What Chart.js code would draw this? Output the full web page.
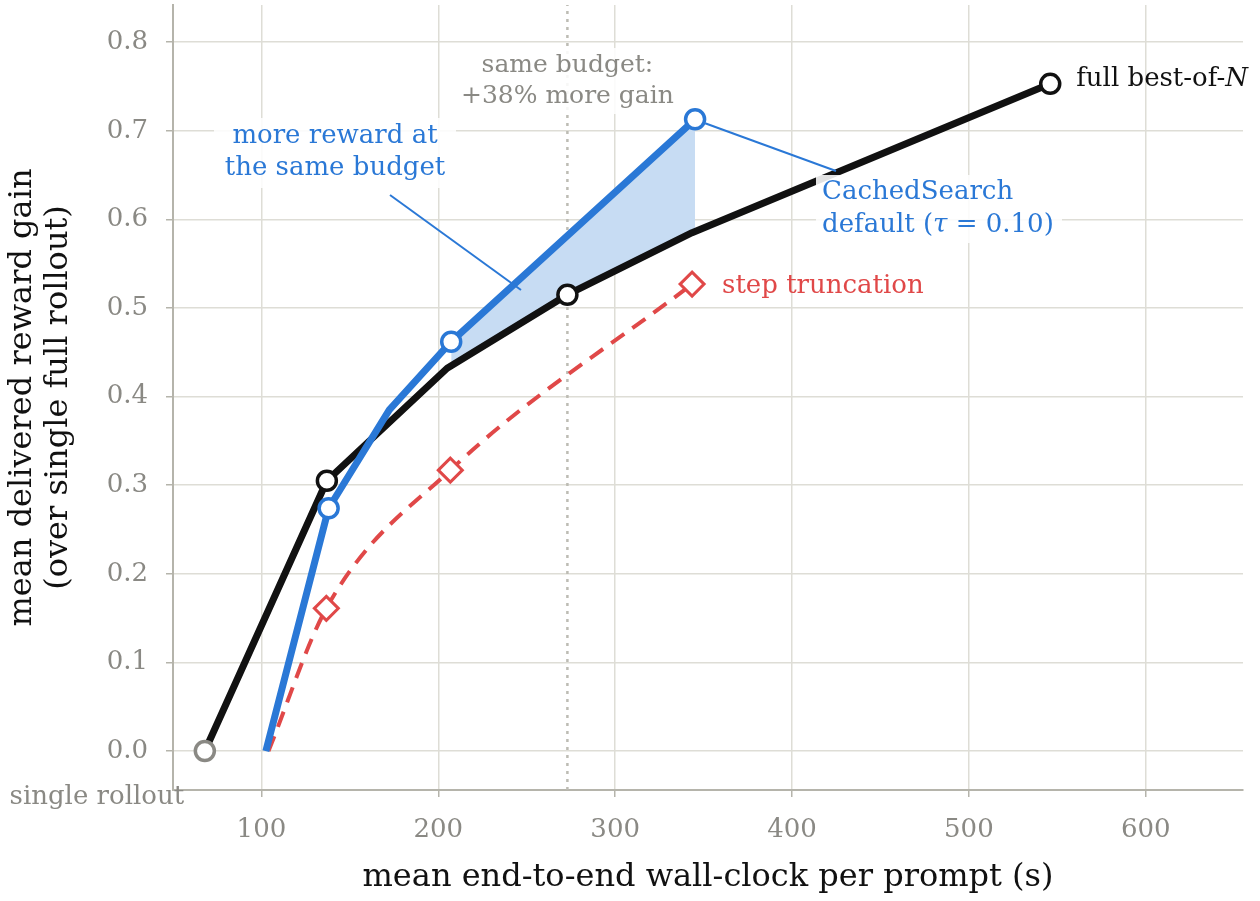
<!DOCTYPE html>
<html>
<head>
<meta charset="utf-8">
<script src="https://cdn.jsdelivr.net/npm/chart.js@4"></script>
<style>
  html, body { margin: 0; padding: 0; background: #fff; }
  #wrap { width: 1260px; height: 901px; position: relative; }
</style>
</head>
<body>
<div id="wrap"><canvas id="myChart"></canvas></div>
<script>
// full best-of-N (first point is the single rollout)
const fullX = [68, 137, 205, 273, 343.5, 546];
const fullY = [0, 0.305, 0.432, 0.515, 0.585, 0.753];
const fullMarker = [true, true, false, true, false, true];

// CachedSearch
const cachedX = [102.5, 138, 172.3, 207.3, 345.2];
const cachedY = [0, 0.274, 0.385, 0.462, 0.713];
const cachedMarker = [false, true, false, true, true];

// step truncation
const truncX = [104, 136.7, 206.8, 343.5];
const truncY = [0, 0.161, 0.317, 0.527];
const truncMarker = [false, true, true, true];

// shaded gain region (upper = CachedSearch, lower = full best-of-N)
const gainUpperX = [207.3, 345.2];
const gainUpperY = [0.462, 0.713];
const gainLowerX = [207.3, 273, 343.5, 345.2];
const gainLowerY = [0.435, 0.515, 0.585, 0.587];

const sameBudgetX = 273;
const xTicks = [100, 200, 300, 400, 500, 600];
const yTicks = [0, 0.1, 0.2, 0.3, 0.4, 0.5, 0.6, 0.7, 0.8];

const BLUE = "#2a78d6";
const RED = "#e04848";
const BLACK = "#111111";
const GREY = "#8a8984";
const SERIF = "'DejaVu Serif', serif";

const pts = (xs, ys) => xs.map((x, i) => ({ x: x, y: ys[i] }));

// draw runs of [text, italic] left to right
const drawRuns = (ctx, runs, x0, y0, size) => {
  let cx = x0;
  runs.forEach(([t, it]) => {
    ctx.font = (it ? "italic " : "") + size + "px " + SERIF;
    ctx.fillText(t, cx, y0);
    cx += ctx.measureText(t).width;
  });
};

const annotPlugin = {
  id: "annot",
  beforeDatasetsDraw(chart) {
    const { ctx, scales, chartArea } = chart;
    const x = scales.x;
    // same-budget dotted line
    ctx.save();
    ctx.strokeStyle = "#bdbcb4";
    ctx.lineWidth = 2.5;
    ctx.setLineDash([3, 5]);
    const px = x.getPixelForValue(sameBudgetX);
    ctx.beginPath();
    ctx.moveTo(px, chartArea.bottom);
    ctx.lineTo(px, chartArea.top);
    ctx.stroke();
    ctx.restore();
  },
  afterDatasetsDraw(chart) {
    const { ctx, scales } = chart;
    const x = scales.x, y = scales.y;

    const box = (l, t, w, h) => {
      ctx.fillStyle = "rgba(255,255,255,0.88)";
      ctx.fillRect(l, t, w, h);
    };
    const line = (x1, y1, x2, y2, color) => {
      ctx.strokeStyle = color;
      ctx.lineWidth = 2;
      ctx.beginPath();
      ctx.moveTo(x1, y1);
      ctx.lineTo(x2, y2);
      ctx.stroke();
    };

    ctx.save();
    ctx.textBaseline = "middle";

    // same budget text
    const sb = x.getPixelForValue(sameBudgetX);
    box(sb - 114, 48, 228, 66);
    ctx.fillStyle = GREY;
    ctx.font = "25px " + SERIF;
    ctx.textAlign = "center";
    ctx.fillText("same budget:", sb, 65);
    ctx.fillText("+38% more gain", sb, 96);

    // more reward at the same budget
    line(390, 195, 521, 290, BLUE);
    box(214, 118, 242, 70);
    ctx.fillStyle = BLUE;
    ctx.font = "26px " + SERIF;
    ctx.fillText("more reward at", 335, 136);
    ctx.fillText("the same budget", 335, 168);

    // CachedSearch label
    const lastX = x.getPixelForValue(cachedX[cachedX.length - 1]);
    const lastY = y.getPixelForValue(cachedY[cachedY.length - 1]);
    line(lastX + 10, lastY + 4, 836, 171, BLUE);
    box(816, 175, 246, 68);
    ctx.fillStyle = BLUE;
    ctx.textAlign = "left";
    ctx.font = "26px " + SERIF;
    ctx.fillText("CachedSearch", 822, 192);
    drawRuns(ctx, [["default (", false], ["\u03c4", true], [" = 0.10)", false]], 822, 225, 26);

    // full best-of-N
    const fx = x.getPixelForValue(fullX[fullX.length - 1]);
    const fy = y.getPixelForValue(fullY[fullY.length - 1]);
    ctx.fillStyle = BLACK;
    drawRuns(ctx, [["full best-of-", false], ["N", true]], fx + 26, fy - 5, 26);

    // step truncation
    const tx = x.getPixelForValue(truncX[truncX.length - 1]);
    const ty = y.getPixelForValue(truncY[truncY.length - 1]);
    ctx.fillStyle = RED;
    ctx.font = "26px " + SERIF;
    ctx.fillText("step truncation", tx + 30, ty + 2);

    // single rollout
    const gx = x.getPixelForValue(fullX[0]);
    const gy = y.getPixelForValue(fullY[0]);
    ctx.fillStyle = GREY;
    ctx.font = "26px " + SERIF;
    ctx.textAlign = "center";
    ctx.fillText("single rollout", gx - 108, gy + 46);
    ctx.restore();
  },
};

const ctx = document.getElementById("myChart").getContext("2d");
new Chart(ctx, {
  type: "line",
  data: {
    datasets: [
      {
        label: "CachedSearch",
        data: pts(cachedX, cachedY),
        borderColor: BLUE,
        borderWidth: 7,
        pointRadius: cachedMarker.map((m) => (m ? 9.5 : 0)),
        pointBackgroundColor: "#fff",
        pointBorderColor: BLUE,
        pointBorderWidth: 3.5,
        borderJoinStyle: "round",
        fill: false,
        order: 1,
      },
      {
        label: "full best-of-N",
        data: pts(fullX, fullY),
        borderColor: BLACK,
        borderWidth: 7,
        pointRadius: fullMarker.map((m) => (m ? 9.5 : 0)),
        pointBackgroundColor: "#fff",
        pointBorderColor: fullX.map((v, i) => (i === 0 ? GREY : BLACK)),
        pointBorderWidth: 3.5,
        borderJoinStyle: "round",
        fill: false,
        order: 2,
      },
      {
        label: "step truncation",
        data: pts(truncX, truncY),
        borderColor: RED,
        borderWidth: 4,
        borderDash: [16, 10],
        cubicInterpolationMode: "monotone",
        pointStyle: "rectRot",
        pointRadius: truncMarker.map((m) => (m ? 12 : 0)),
        pointBackgroundColor: "#fff",
        pointBorderColor: RED,
        pointBorderWidth: 3,
        fill: false,
        order: 3,
      },
      {
        label: "gain upper",
        data: pts(gainUpperX, gainUpperY),
        borderColor: "rgba(0,0,0,0)",
        borderWidth: 0,
        pointRadius: 0,
        backgroundColor: "#c7dcf3",
        fill: 4,
        order: 10,
      },
      {
        label: "gain lower",
        data: pts(gainLowerX, gainLowerY),
        borderColor: "rgba(0,0,0,0)",
        borderWidth: 0,
        pointRadius: 0,
        fill: false,
        order: 11,
      },
    ],
  },
  options: {
    responsive: true,
    maintainAspectRatio: false,
    animation: false,
    layout: { autoPadding: false, padding: { top: 5, right: 17, left: 0, bottom: 0 } },
    plugins: {
      legend: { display: false },
      tooltip: { enabled: false },
    },
    scales: {
      x: {
        type: "linear",
        min: 50,
        max: 655,
        afterBuildTicks: (s) => { s.ticks = xTicks.map((v) => ({ value: v })); },
        afterFit: (s) => { s.height = 111; s.paddingLeft = 0; s.paddingRight = 0; },
        grid: { color: "#deddd6", lineWidth: 1.5, tickLength: 7, tickColor: "#b5b4ab" },
        border: { color: "#b5b4ab", width: 2 },
        ticks: {
          color: GREY,
          font: { family: SERIF, size: 26 },
          padding: 18,
          maxRotation: 0,
        },
        title: {
          display: true,
          text: "mean end-to-end wall-clock per prompt (s)",
          color: BLACK,
          font: { family: SERIF, size: 32 },
          padding: { top: 0, bottom: 4 },
        },
      },
      y: {
        type: "linear",
        min: -0.044,
        max: 0.842,
        afterBuildTicks: (s) => { s.ticks = yTicks.map((v) => ({ value: v })); },
        afterFit: (s) => { s.width = 173; s.paddingTop = 0; s.paddingBottom = 0; },
        grid: { color: "#deddd6", lineWidth: 1.5, tickLength: 7, tickColor: "#b5b4ab" },
        border: { color: "#b5b4ab", width: 2 },
        ticks: {
          color: GREY,
          font: { family: SERIF, size: 26 },
          padding: 18,
          callback: (v) => v.toFixed(1),
        },
        title: {
          display: true,
          text: ["mean delivered reward gain", "(over single full rollout)"],
          color: BLACK,
          font: { family: SERIF, size: 32, lineHeight: 1.12 },
          padding: { top: 5, bottom: 0 },
        },
      },
    },
  },
  plugins: [annotPlugin],
});
</script>
</body>
</html>
